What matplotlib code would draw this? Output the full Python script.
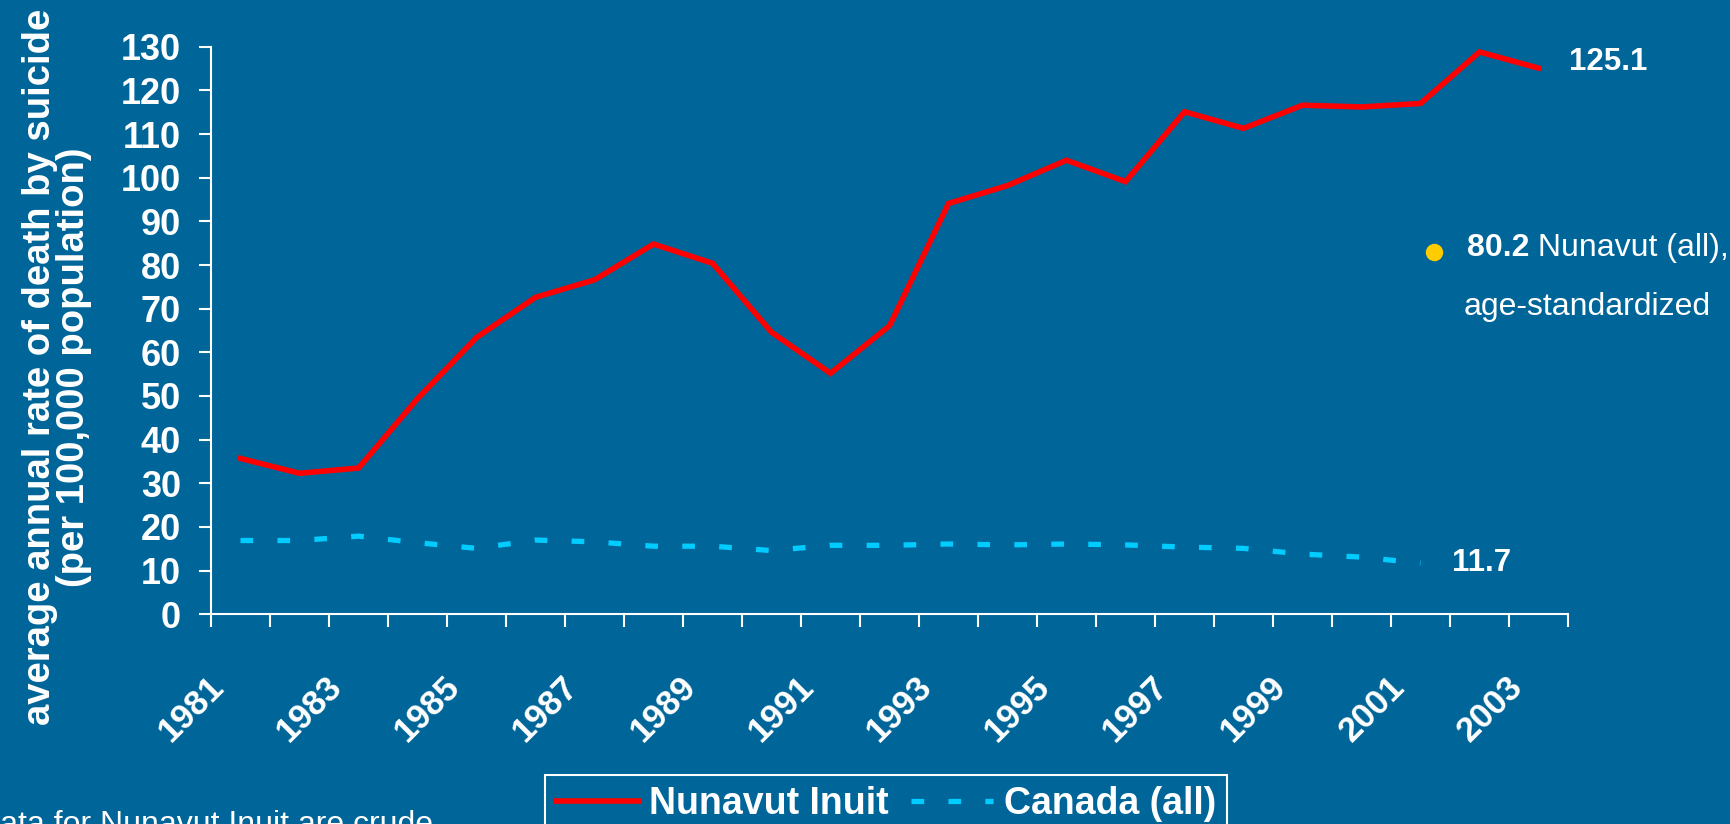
import matplotlib
matplotlib.use("Agg")
import matplotlib.pyplot as plt
from matplotlib.lines import Line2D
from matplotlib.transforms import ScaledTranslation
import numpy as np

plt.rcParams['font.family'] = ['Liberation Sans', 'DejaVu Sans']

# ---------------- data ----------------
years = list(range(1981, 2004))
nunavut_inuit = [35.7, 32.3, 33.5, 49.4, 63.4, 72.6, 76.6, 84.8, 80.4, 64.6,
                 55.2, 66.1, 94.1, 98.2, 104.0, 99.1, 115.1, 111.3, 116.6,
                 116.2, 117.0, 128.8, 125.1]
canada_all = [16.9, 16.9, 17.9, 16.4, 15.1, 17.0, 16.6, 15.6, 15.6, 14.6,
              15.8, 15.8, 16.1, 15.9, 16.1, 15.9, 15.4, 15.1, 13.8, 13.1, 11.7]
year_labels = [str(y) for y in years[::2]]
yticks = list(range(0, 131, 10))
nunavut_all_value = 80.2

BG = '#006699'
W, H = 1730, 824

fig = plt.figure(figsize=(W / 100, H / 100), dpi=100, facecolor=BG)
ax = fig.add_axes([211 / W, (H - 614.3) / H, (1568 - 211) / W, (614.3 - 46.7) / H])
ax.set_facecolor(BG)

idx = np.arange(len(years))
l1, = ax.plot(idx, nunavut_inuit, color='#FF0000', lw=4.0,
              solid_joinstyle='miter', clip_on=False, label='Nunavut Inuit')
l2, = ax.plot(idx[:len(canada_all)], canada_all, color='#00CCFF', lw=3.8,
              dashes=(2.4, 4.6), dash_capstyle='butt', clip_on=False,
              label='Canada (all)')

ax.set_xlim(-0.5, len(years) - 0.5)
ax.set_ylim(0, 130)

for s in ['top', 'right']:
    ax.spines[s].set_visible(False)
for s in ['left', 'bottom']:
    ax.spines[s].set_color('white')
    ax.spines[s].set_linewidth(1.5)

ax.set_yticks(yticks)
ax.set_yticklabels([str(v) for v in yticks])
ax.tick_params(axis='y', direction='out', length=8.6, width=1.5, colors='white',
               labelsize=26, pad=13)
for lab in ax.get_yticklabels():
    lab.set_fontweight('bold')

ax.set_xticks(np.arange(-0.5, len(years), 1.0))
ax.set_xticklabels([])
ax.tick_params(axis='x', direction='out', length=9.4, width=1.5, colors='white')

trans = ax.get_xaxis_transform() + ScaledTranslation(-33 / 100, -56 / 100, fig.dpi_scale_trans)
for i, lab in zip(idx[::2], year_labels):
    ax.text(i, 0, lab, transform=trans, rotation=45, rotation_mode='anchor',
            ha='right', va='top', fontsize=25, fontweight='bold', color='white')

# y label
fig.text(57 / W, 1 - 367 / H,
         "average annual rate of death by suicide\n(per 100,000 population)",
         rotation=90, ha='center', va='center', multialignment='center',
         fontsize=27.5, fontweight='bold', color='white', linespacing=0.95)

# end labels
ax.annotate(f"{nunavut_inuit[-1]}", xy=(idx[-1], nunavut_inuit[-1]),
            xytext=(22, 4.3), textcoords='offset points', ha='left', va='center',
            fontsize=22.5, fontweight='bold', color='white', annotation_clip=False)
ax.annotate(f"{canada_all[-1]}", xy=(len(canada_all) - 1, canada_all[-1]),
            xytext=(22.7, 0), textcoords='offset points', ha='left', va='center',
            fontsize=22.5, fontweight='bold', color='white', annotation_clip=False)

# Nunavut (all) note
fig.add_artist(Line2D([1433.7 / W], [1 - 252 / H], marker='o', markersize=11.5,
                      color='#FFCC00', linestyle='none', transform=fig.transFigure))
t1 = fig.text(1467 / W, 1 - 248 / H, f"{nunavut_all_value}", ha='left', va='center',
              fontsize=23, fontweight='bold', color='white')
plt.annotate(" Nunavut (all),", xy=(1, 0), xycoords=t1, ha='left', va='bottom',
             fontsize=23, color='white', annotation_clip=False)
fig.text(1464 / W, 1 - 307 / H, "age-standardized", ha='left', va='center',
         fontsize=23, color='white')

# legend
leg = fig.legend(handles=[l1, l2], labels=['Nunavut Inuit', 'Canada (all)'],
                 loc='upper left', bbox_to_anchor=(545 / W, 1 - 775 / H),
                 ncol=2, frameon=True, fancybox=False, facecolor=BG,
                 edgecolor='white', framealpha=1,
                 prop={'size': 27, 'weight': 'bold'}, labelcolor='white',
                 handlelength=2.2, handletextpad=0.28, columnspacing=0.58,
                 borderpad=0.3, borderaxespad=0)
leg.get_frame().set_linewidth(1.5)

# footnote (partially off-canvas as in the reference)
fig.text(-23 / W, 1 - 833 / H, "Data for Nunavut Inuit are crude", ha='left',
         va='baseline', fontsize=23, color='white')

fig.savefig('out.png', dpi=100, facecolor=BG)
